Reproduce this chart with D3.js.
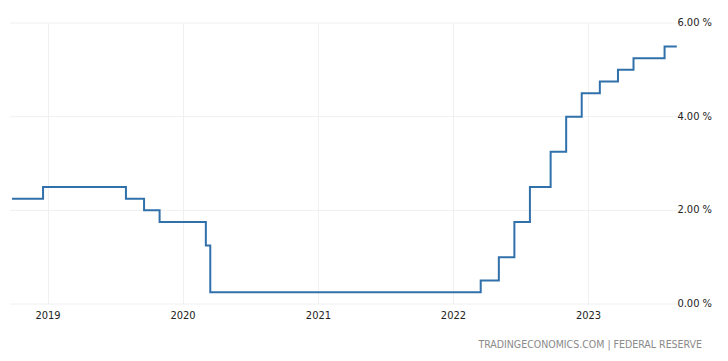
<!DOCTYPE html>
<html><head><meta charset="utf-8">
<script src="https://cdn.jsdelivr.net/npm/d3@7"></script>
<style>body{margin:0;background:#fff;}svg{display:block;}</style>
</head><body>
<svg id="c" width="728" height="361"></svg>
<script>
// Fed funds target (upper bound) change dates and levels
const dates = ["2018-09-27","2018-12-20","2019-08-01","2019-09-19","2019-10-31","2020-03-04","2020-03-16","2022-03-17","2022-05-05","2022-06-16","2022-07-28","2022-09-22","2022-11-03","2022-12-15","2023-02-02","2023-03-23","2023-05-04","2023-07-27","2023-08-29"];
const rates = [2.25,2.5,2.25,2.0,1.75,1.25,0.25,0.5,1.0,1.75,2.5,3.25,4.0,4.5,4.75,5.0,5.25,5.5,5.5];
const xTickLabels = ["2019","2020","2021","2022","2023"];
const yTicks = [0,2,4,6];
const source = "TRADINGECONOMICS.COM | FEDERAL RESERVE";

const parse = d3.timeParse("%Y-%m-%d");
const data = dates.map((d,i)=>({date:parse(d), v:rates[i]}));
const svg = d3.select("#c");
const x = d3.scaleTime().domain([parse("2019-01-01"), parse("2023-01-01")]).range([47.5, 588]);
const y = d3.scaleLinear().domain([0,6]).range([304,23]);
const xl = 10, xr = 680;

// grid
const g = svg.append("g");
g.selectAll("line.h").data(yTicks).join("line")
  .attr("x1", xl).attr("x2", xr).attr("y1", d=>y(d)).attr("y2", d=>y(d))
  .attr("stroke", "#f0f0f0").attr("stroke-width",1);
const xTickDates = xTickLabels.map(s=>parse(s+"-01-01"));
g.selectAll("line.v").data(xTickDates).join("line")
  .attr("x1", d=>Math.round(x(d))+0.5).attr("x2", d=>Math.round(x(d))+0.5).attr("y1", 23).attr("y2", 304)
  .attr("stroke", "#f0f0f0").attr("stroke-width",1);

// x axis labels
const xAxis = d3.axisBottom(x).tickValues(xTickDates).tickFormat((d,i)=>xTickLabels[i]).tickSize(0).tickPadding(0);
const xg = svg.append("g").attr("transform","translate(0,311)").call(xAxis);
xg.select(".domain").remove();
xg.selectAll("text").attr("font-family","'DejaVu Sans Condensed','DejaVu Sans',sans-serif").attr("font-size","11px").attr("fill","#222").attr("dy","0.71em");

// y axis labels
const yAxis = d3.axisRight(y).tickValues(yTicks).tickFormat(d=>d3.format(".2f")(d)+" %").tickSize(0).tickPadding(0);
const yg = svg.append("g").attr("transform","translate(712,-1)").call(yAxis);
yg.select(".domain").remove();
yg.selectAll("text").attr("text-anchor","end").attr("font-family","'DejaVu Sans Condensed','DejaVu Sans',sans-serif").attr("font-size","11px").attr("fill","#222");

// line
const line = d3.line().x(d=>x(d.date)).y(d=>y(d.v)).curve(d3.curveStepAfter);
svg.append("path").datum(data).attr("d", line).attr("fill","none")
  .attr("stroke","#3070ab").attr("stroke-width",2).attr("stroke-linejoin","miter");

// source
svg.append("text").attr("x",702).attr("y",348).attr("text-anchor","end")
  .attr("font-family","'DejaVu Sans Condensed','DejaVu Sans',sans-serif").attr("font-size","10.5px").attr("fill","#8a8a8a")
  .text(source);
</script>
</body></html>
